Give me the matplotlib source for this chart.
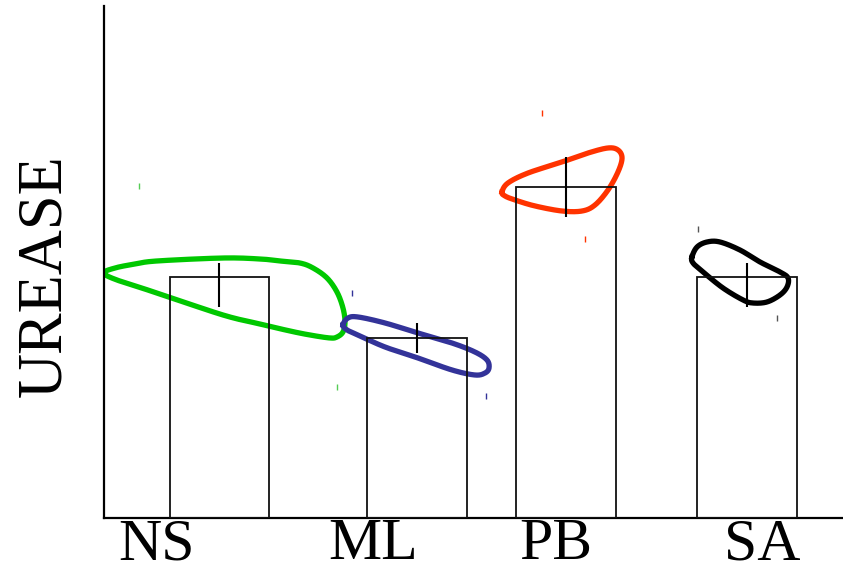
import matplotlib
matplotlib.use("Agg")
import matplotlib.pyplot as plt
from matplotlib import font_manager
import numpy as np

# register the Times-like face directly from its file, in case the font cache is stale
for path in font_manager.findSystemFonts():
    if "LiberationSerif-Regular" in path or "Times New Roman.ttf" in path:
        font_manager.fontManager.addfont(path)
installed = {f.name for f in font_manager.fontManager.ttflist}
serif_face = next((n for n in ["Liberation Serif", "Times New Roman", "DejaVu Serif"]
                   if n in installed), "DejaVu Serif")
plt.rcParams["font.family"] = [serif_face, "DejaVu Serif"]

# group labels and where they sit along the x axis
groups = ["NS", "ML", "PB", "SA"]
label_pos = [0.563, 2.912, 4.893, 7.123]

# bar centres, means and the (lower, upper) error reach
bar_x = [1.25, 3.39, 5.00, 6.96]
bar_mean = [47.1, 35.2, 64.6, 47.1]
err_lo = [5.9, 2.9, 5.9, 5.9]
err_hi = [2.7, 2.9, 5.9, 2.7]
bar_width = 1.075

colors = ["#00c800", "#333399", "#ff3300", "#000000"]
tick_colors = ["#55cc55", "#333399", "#ff3300", "#555555"]

# extreme observations for each group
ext_x = [[0.379, 2.522], [2.685, 4.135], [4.742, 5.207], [6.430, 7.286]]
ext_y = [[64.8, 25.6], [43.9, 23.8], [79.1, 54.5], [56.4, 39.1]]

# outline of the spread around each group (x, y), traced in order
ns_x = [0.000, 0.119, 0.336, 0.574, 1.288, 1.689, 1.905, 2.122, 2.263, 2.414, 2.522,
        2.587, 2.609, 2.587, 2.522, 2.446, 2.230, 2.014, 1.689, 1.288, 0.574, 0.141]
ns_y = [47.85, 48.83, 49.61, 50.20, 50.78, 50.59, 50.20, 49.80, 48.83, 46.88, 44.14,
        41.02, 38.28, 36.33, 35.35, 35.16, 35.74, 36.52, 37.89, 39.65, 43.95, 46.48]
ml_x = [2.587, 2.641, 2.750, 3.042, 3.399, 3.767, 4.016, 4.146, 4.168, 4.125, 4.016,
        3.767, 3.399, 3.042, 2.750, 2.632]
ml_y = [37.70, 39.06, 39.26, 38.09, 36.13, 34.18, 32.42, 30.86, 29.30, 28.32, 27.93,
        28.91, 31.25, 33.40, 35.74, 36.72]
pb_x = [4.309, 4.373, 4.590, 4.958, 5.240, 5.456, 5.564, 5.608, 5.564, 5.456, 5.315,
        5.175, 4.958, 4.666, 4.449, 4.341]
pb_y = [63.67, 65.43, 67.38, 69.53, 71.29, 72.27, 71.88, 70.31, 67.58, 64.06, 61.13,
        59.96, 59.96, 60.94, 62.11, 62.89]
sa_x = [6.365, 6.420, 6.528, 6.668, 6.885, 7.102, 7.318, 7.405, 7.394, 7.318, 7.177,
        7.026, 6.918, 6.701, 6.485, 6.377]
sa_y = [50.98, 52.93, 53.91, 53.91, 52.34, 50.00, 48.05, 46.88, 45.12, 43.55, 42.19,
        41.99, 42.58, 44.92, 48.05, 49.80]
loops = [(ns_x, ns_y), (ml_x, ml_y), (pb_x, pb_y), (sa_x, sa_y)]


# closed Catmull-Rom curve through the outline points
def smooth_loop(xs, ys, steps=30):
    P = np.column_stack([xs, ys])
    n = len(P)
    out = []
    t = np.linspace(0, 1, steps, endpoint=False)[:, None]
    for i in range(n):
        p0, p1, p2, p3 = P[i - 1], P[i], P[(i + 1) % n], P[(i + 2) % n]
        seg = 0.5 * ((2 * p1) + (-p0 + p2) * t + (2 * p0 - 5 * p1 + 4 * p2 - p3) * t ** 2
                     + (-p0 + 3 * p1 - 3 * p2 + p3) * t ** 3)
        out.append(seg)
    out = np.vstack(out)
    out = np.vstack([out, out[:1]])
    return out[:, 0], out[:, 1]


fig = plt.figure(figsize=(8.43, 5.84), dpi=100)
ax = fig.add_axes([104 / 843, 66 / 584, 739 / 843, 512 / 584])

for (lx, ly), c in zip(loops, colors):
    sx, sy = smooth_loop(lx, ly)
    ax.plot(sx, sy, color=c, lw=3.8, solid_joinstyle="round", zorder=2)

for ex, ey, c in zip(ext_x, ext_y, tick_colors):
    ax.plot(ex, ey, ls="none", marker="|", ms=4.5, mew=1.0, color=c, zorder=2)

ax.bar(bar_x, bar_mean, width=bar_width, fill=False, edgecolor="#111111", lw=1.3, zorder=3)
ax.errorbar(bar_x, bar_mean, yerr=[err_lo, err_hi], fmt="none", ecolor="black",
            elinewidth=1.5, capsize=0, zorder=4)

ax.set_xlim(0, 8)
ax.set_ylim(0, 100)
for s in ["top", "right"]:
    ax.spines[s].set_visible(False)
ax.spines["left"].set_linewidth(1.6)
ax.spines["bottom"].set_linewidth(1.6)

ax.set_yticks([])
ax.set_xticks(label_pos)
ax.set_xticklabels(groups, fontsize=43)
ax.tick_params(axis="x", length=0, pad=0)

ax.set_ylabel("UREASE", fontsize=45)
ax.yaxis.set_label_coords(-0.04, 0.474)

fig.savefig("out.png", dpi=100)
